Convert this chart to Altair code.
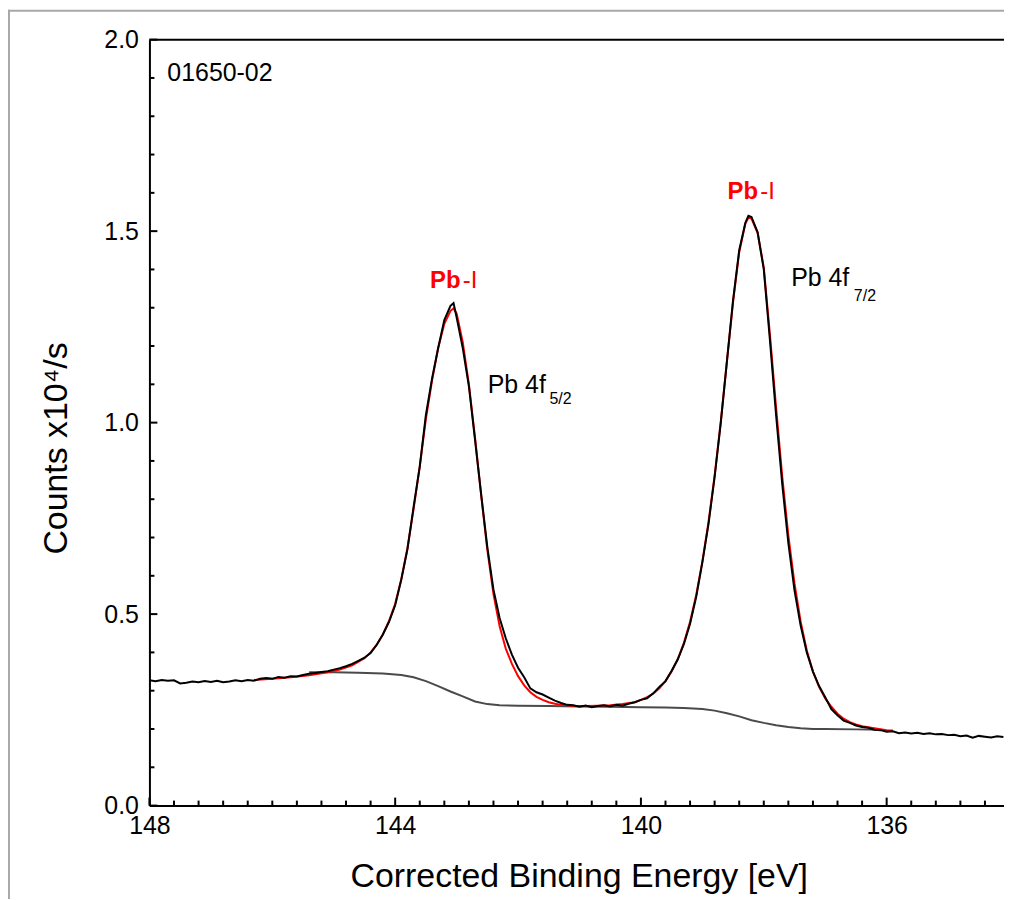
import altair as alt
import pandas as pd

# ---------------- data ----------------
raw_be = [148.0, 147.9, 147.8, 147.7, 147.6, 147.5, 147.4, 147.3, 147.2, 147.1,
          147.0, 146.9, 146.8, 146.7, 146.6, 146.5, 146.4, 146.3, 146.2, 146.1,
          146.0, 145.9, 145.8, 145.7, 145.6, 145.5, 145.4, 145.3, 145.2, 145.1,
          145.0, 144.9, 144.8, 144.7, 144.6, 144.5, 144.4, 144.3, 144.2, 144.1,
          144.0, 143.9, 143.8, 143.7, 143.6, 143.5, 143.4, 143.3, 143.2, 143.1,
          143.05, 143.0, 142.9, 142.8, 142.7, 142.6, 142.5, 142.4, 142.3, 142.2,
          142.1, 142.0, 141.9, 141.8, 141.7, 141.6, 141.5, 141.4, 141.3, 141.2,
          141.1, 141.0, 140.9, 140.8, 140.7, 140.6, 140.5, 140.4, 140.3, 140.2,
          140.1, 140.0, 139.9, 139.8, 139.7, 139.6, 139.5, 139.4, 139.3, 139.2,
          139.1, 139.0, 138.9, 138.8, 138.7, 138.6, 138.5, 138.4, 138.3, 138.25,
          138.2, 138.1, 138.0, 137.9, 137.8, 137.7, 137.6, 137.5, 137.4, 137.3,
          137.2, 137.1, 137.0, 136.9, 136.8, 136.7, 136.6, 136.5, 136.4, 136.3,
          136.2, 136.1, 136.0, 135.9, 135.8, 135.7, 135.6, 135.5, 135.4, 135.3,
          135.2, 135.1, 135.0, 134.9, 134.8, 134.7, 134.6, 134.5, 134.4, 134.3,
          134.2, 134.1]
raw_counts = [0.327, 0.325, 0.328, 0.326, 0.327, 0.319, 0.321, 0.324, 0.322, 0.325,
              0.323, 0.326, 0.322, 0.324, 0.327, 0.325, 0.328, 0.326, 0.331, 0.333,
              0.331, 0.336, 0.334, 0.338, 0.337, 0.341, 0.344, 0.346, 0.349, 0.351,
              0.355, 0.359, 0.364, 0.370, 0.378, 0.386, 0.398, 0.420, 0.447, 0.480,
              0.523, 0.590, 0.670, 0.780, 0.885, 1.020, 1.115, 1.195, 1.268, 1.305,
              1.312, 1.275, 1.195, 1.095, 0.955, 0.812, 0.675, 0.564, 0.490, 0.437,
              0.394, 0.360, 0.335, 0.306, 0.296, 0.290, 0.282, 0.274, 0.268, 0.263,
              0.262, 0.258, 0.261, 0.257, 0.260, 0.262, 0.259, 0.263, 0.261, 0.266,
              0.270, 0.276, 0.280, 0.293, 0.310, 0.325, 0.352, 0.382, 0.422, 0.475,
              0.545, 0.635, 0.735, 0.858, 1.000, 1.160, 1.320, 1.450, 1.522, 1.540,
              1.537, 1.497, 1.400, 1.215, 1.020, 0.840, 0.685, 0.562, 0.470, 0.400,
              0.350, 0.312, 0.283, 0.252, 0.236, 0.222, 0.216, 0.209, 0.205, 0.203,
              0.198, 0.197, 0.193, 0.194, 0.189, 0.191, 0.188, 0.190, 0.187, 0.189,
              0.186, 0.187, 0.184, 0.185, 0.181, 0.183, 0.177, 0.182, 0.180, 0.178,
              0.181, 0.179]

fit_be = [146.3, 146.0, 145.7, 145.4, 145.1, 144.9, 144.7, 144.5, 144.4, 144.3,
          144.2, 144.1, 144.0, 143.9, 143.8, 143.7, 143.6, 143.5, 143.4, 143.3,
          143.2, 143.1, 143.05, 143.0, 142.9, 142.8, 142.7, 142.6, 142.5, 142.4,
          142.3, 142.2, 142.1, 142.0, 141.9, 141.8, 141.7, 141.6, 141.5, 141.4,
          141.3, 141.1, 140.9, 140.7, 140.5, 140.3, 140.1, 140.0, 139.9, 139.8,
          139.7, 139.6, 139.5, 139.4, 139.3, 139.2, 139.1, 139.0, 138.9, 138.8,
          138.7, 138.6, 138.5, 138.4, 138.3, 138.25, 138.2, 138.1, 138.0, 137.9,
          137.8, 137.7, 137.6, 137.5, 137.4, 137.3, 137.2, 137.1, 137.0, 136.9,
          136.8, 136.7, 136.6, 136.5, 136.4, 136.2, 136.0, 135.9]
fit_counts = [0.328, 0.331, 0.335, 0.340, 0.348, 0.355, 0.366, 0.385, 0.400, 0.420,
              0.447, 0.482, 0.527, 0.592, 0.672, 0.775, 0.885, 1.010, 1.110, 1.195,
              1.258, 1.292, 1.298, 1.285, 1.210, 1.100, 0.960, 0.810, 0.668, 0.552,
              0.468, 0.410, 0.370, 0.338, 0.314, 0.296, 0.284, 0.276, 0.270, 0.266,
              0.263, 0.261, 0.260, 0.261, 0.262, 0.265, 0.270, 0.276, 0.283, 0.292,
              0.306, 0.325, 0.350, 0.382, 0.425, 0.480, 0.550, 0.637, 0.740, 0.862,
              1.002, 1.160, 1.315, 1.445, 1.520, 1.535, 1.533, 1.495, 1.405, 1.230,
              1.040, 0.860, 0.705, 0.580, 0.480, 0.405, 0.350, 0.310, 0.280, 0.258,
              0.240, 0.227, 0.218, 0.212, 0.207, 0.202, 0.197, 0.196]

bg_be = [145.4, 145.0, 144.6, 144.2, 143.9, 143.7, 143.5, 143.3, 143.1, 142.9,
         142.7, 142.5, 142.3, 142.0, 141.5, 141.0, 140.5, 140.0, 139.6, 139.3,
         139.0, 138.8, 138.6, 138.4, 138.2, 138.0, 137.8, 137.6, 137.4, 137.2,
         137.0, 136.5, 136.1]
bg_counts = [0.348, 0.348, 0.347, 0.345, 0.341, 0.335, 0.325, 0.312, 0.298, 0.285,
             0.272, 0.265, 0.262, 0.261, 0.260, 0.259, 0.258, 0.257, 0.256, 0.255,
             0.252, 0.248, 0.241, 0.233, 0.223, 0.216, 0.210, 0.205, 0.202, 0.200,
             0.200, 0.199, 0.198]

x_major = [148, 144, 140, 136]
x_minor = [round(148 - 0.4 * k, 1) for k in range(1, 35) if k % 10 != 0]
y_major = [0.0, 0.5, 1.0, 1.5, 2.0]
y_minor = [round(0.1 * k, 1) for k in range(1, 20) if k % 5 != 0]

sample_label = "01650-02"
peak_tag = ["Pb", "Pb"]
peak_tag_rest = ["-I", "-I"]
level_main = ["Pb 4f", "Pb 4f"]
level_sub = ["5/2", "7/2"]

# ---------------- layout ----------------
W, H = 858, 769
FONT = "Liberation Sans"
xs = alt.Scale(domain=[148.0, 134.09], nice=False, zero=False)
ys = alt.Scale(domain=[0.0, 2.0], nice=False, zero=False)

xaxis = alt.Axis(values=x_major, format="d", labelFontSize=25, labelFont=FONT,
                 labelColor="black", labelPadding=8, labelFlush=False,
                 labelOverlap=False, ticks=False, tickSize=0, grid=False,
                 domainColor="black", domainWidth=2,
                 title="Corrected Binding Energy [eV]", titleFont=FONT,
                 titleFontSize=34, titleFontWeight="normal", titleColor="black",
                 titleX=431, titleY=81, titleAlign="center",
                 titleBaseline="alphabetic")
yaxis = alt.Axis(values=y_major, format=".1f", labelFontSize=25, labelFont=FONT,
                 labelColor="black", labelPadding=11, labelFlush=False,
                 labelOverlap=False, ticks=False, tickSize=0, grid=False,
                 domainColor="black", domainWidth=2,
                 title="Counts x10\u2074/s", titleFont=FONT, titleFontSize=34,
                 titleFontWeight="normal", titleColor="black", titleAngle=270,
                 titleX=-93, titleY=410, titleAlign="center",
                 titleBaseline="middle")


def X():
    return alt.X("be:Q", scale=xs, axis=xaxis)


def Y():
    return alt.Y("c:Q", scale=ys, axis=yaxis)


raw_df = pd.DataFrame({"be": raw_be, "c": raw_counts})
fit_df = pd.DataFrame({"be": fit_be, "c": fit_counts})
bg_df = pd.DataFrame({"be": bg_be, "c": bg_counts})

bg_line = alt.Chart(bg_df).mark_line(color="#4a4a4a", strokeWidth=2).encode(
    x=X(), y=Y(), order="be:Q")
fit_line = alt.Chart(fit_df).mark_line(color="#ff0000", strokeWidth=2).encode(
    x=X(), y=Y(), order="be:Q")
raw_line = alt.Chart(raw_df).mark_line(color="black", strokeWidth=2).encode(
    x=X(), y=Y(), order="be:Q")

# inward ticks
xmaj = alt.Chart(pd.DataFrame({"be": x_major})).mark_rule(color="black", strokeWidth=2).encode(
    x=X(), y=alt.value(H), y2=alt.value(H - 8))
xmin = alt.Chart(pd.DataFrame({"be": x_minor})).mark_rule(color="black", strokeWidth=2).encode(
    x=X(), y=alt.value(H), y2=alt.value(H - 5))
ymaj = alt.Chart(pd.DataFrame({"c": y_major})).mark_rule(color="black", strokeWidth=2).encode(
    y=Y(), x=alt.value(0), x2=alt.value(8))
ymin = alt.Chart(pd.DataFrame({"c": y_minor})).mark_rule(color="black", strokeWidth=2).encode(
    y=Y(), x=alt.value(0), x2=alt.value(5))

one = pd.DataFrame({"a": [0]})
top_border = alt.Chart(one).mark_rule(color="black", strokeWidth=2).encode(
    x=alt.value(0), x2=alt.value(W + 20), y=alt.value(0))
frame_left = alt.Chart(one).mark_rule(color="#a8a8a8", strokeWidth=2).encode(
    x=alt.value(-141), y=alt.value(-30), y2=alt.value(H + 100))
frame_top = alt.Chart(one).mark_rule(color="#a8a8a8", strokeWidth=2).encode(
    x=alt.value(-142), x2=alt.value(W + 20), y=alt.value(-29))

# annotations
sample_df = pd.DataFrame({"be": [147.708], "c": [1.891], "t": [sample_label]})
sample_txt = alt.Chart(sample_df).mark_text(
    font=FONT, fontSize=25, align="left", baseline="alphabetic", color="black").encode(
    x=X(), y=Y(), text="t:N")

tag_df = pd.DataFrame({"be": [143.433, 138.591], "c": [1.3524, 1.5839], "t": peak_tag})
tag_txt = alt.Chart(tag_df).mark_text(
    font=FONT, fontSize=24, fontWeight="bold", align="left", baseline="alphabetic",
    color="#ff0000").encode(x=X(), y=Y(), text="t:N")
tag2_df = pd.DataFrame({"be": [142.900, 138.058], "c": [1.3524, 1.5839], "t": peak_tag_rest})
tag2_txt = alt.Chart(tag2_df).mark_text(
    font=FONT, fontSize=24, align="left", baseline="alphabetic",
    color="#ff0000").encode(x=X(), y=Y(), text="t:N")

lvl_df = pd.DataFrame({"be": [142.494, 137.555], "c": [1.0767, 1.3576], "t": level_main})
lvl_txt = alt.Chart(lvl_df).mark_text(
    font=FONT, fontSize=25, align="left", baseline="alphabetic", color="black").encode(
    x=X(), y=Y(), text="t:N")
sub_df = pd.DataFrame({"be": [141.49, 136.534], "c": [1.0481, 1.3186], "t": level_sub})
sub_txt = alt.Chart(sub_df).mark_text(
    font=FONT, fontSize=16, align="left", baseline="alphabetic", color="black").encode(
    x=X(), y=Y(), text="t:N")

chart = alt.layer(
    frame_left, frame_top,
    bg_line, fit_line, raw_line,
    xmaj, xmin, ymaj, ymin, top_border,
    sample_txt, tag_txt, tag2_txt, lvl_txt, sub_txt,
).properties(
    width=W, height=H,
    autosize=alt.AutoSizeParams(type="none"),
    padding={"left": 142, "top": 30, "right": 0, "bottom": 92},
    background="white",
).configure_view(stroke=None)

chart.save("out.html", embed_options={"renderer": "svg", "actions": False})
